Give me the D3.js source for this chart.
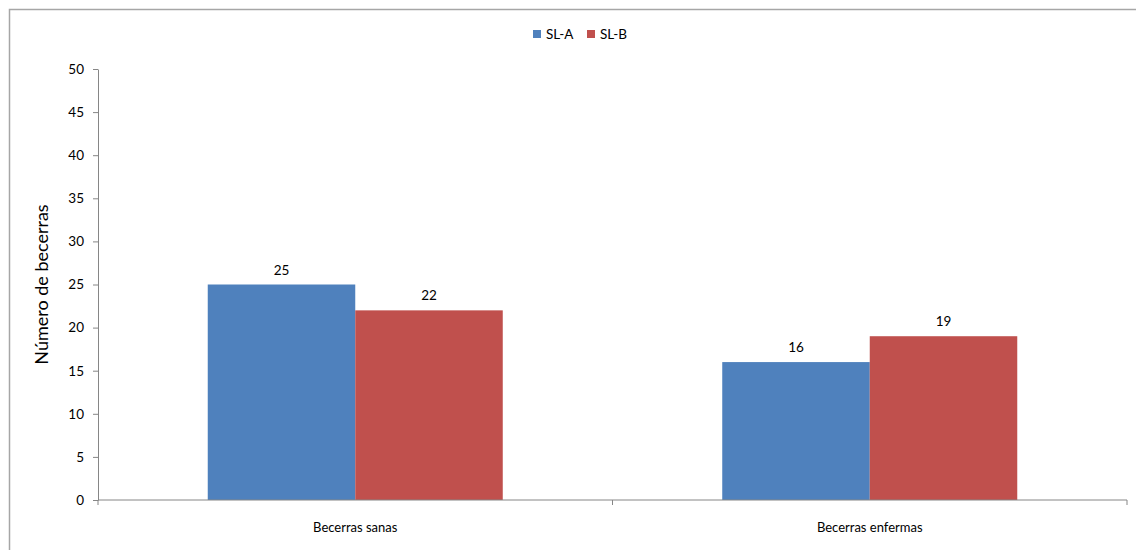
<!DOCTYPE html>
<html>
<head>
<meta charset="utf-8">
<script src="https://cdn.jsdelivr.net/npm/d3@7"></script>
<style>
  html, body { margin: 0; padding: 0; background: #fff; overflow: hidden; }
  svg { display: block; }
  text { font-family: Lato, "Open Sans", "Liberation Sans", sans-serif; fill: #000; }
</style>
</head>
<body>
<svg id="chart" width="1136" height="550"></svg>
<script>
// Calves per group, healthy vs sick
const categories = ["Becerras sanas", "Becerras enfermas"];
const seriesNames = ["SL-A", "SL-B"];
const slA = [25, 16];
const slB = [22, 19];
const yTicks = [0, 5, 10, 15, 20, 25, 30, 35, 40, 45, 50];
const colors = ["#4f81bd", "#c0504d"];

const svg = d3.select("#chart");
const W = 1136, H = 550;
const plot = { left: 98, right: 1127, top: 69, bottom: 500 };

// outer frame (top and left edges visible)
svg.append("path")
  .attr("d", `M9.5,${H + 5}V9.5H${W + 5}`)
  .attr("fill", "none").attr("stroke", "#a6a6a6").attr("stroke-width", 1.5);

const y = d3.scaleLinear().domain([0, 50]).range([plot.bottom, plot.top]);
const x0 = d3.scaleBand().domain(categories).range([plot.left, plot.right]).padding(0);
const x1 = d3.scaleBand().domain(seriesNames).range([0, x0.bandwidth()])
  .paddingInner(0).paddingOuter(0.744);

const rows = categories.map((c, i) => ({ cat: c, vals: [slA[i], slB[i]] }));

// bars
const groups = svg.append("g").selectAll("g").data(rows).join("g")
  .attr("transform", d => `translate(${x0(d.cat)},0)`);
groups.selectAll("rect")
  .data(d => d.vals.map((v, j) => ({ name: seriesNames[j], v, j })))
  .join("rect")
  .attr("x", d => x1(d.name))
  .attr("y", d => y(d.v))
  .attr("width", x1.bandwidth())
  .attr("height", d => y(0) - y(d.v))
  .attr("fill", d => colors[d.j]);

// value labels
groups.selectAll("text.val")
  .data(d => d.vals.map((v, j) => ({ name: seriesNames[j], v, j })))
  .join("text").attr("class", "val")
  .attr("x", d => x1(d.name) + x1.bandwidth() / 2)
  .attr("y", d => y(d.v) - 10)
  .attr("text-anchor", "middle")
  .attr("font-size", 13.5)
  .text(d => d.v);

// y axis
const yAxis = svg.append("g")
  .attr("transform", `translate(${plot.left},0)`)
  .call(d3.axisLeft(y).tickValues(yTicks).tickSize(5).tickPadding(9).tickSizeOuter(0));
yAxis.select(".domain").attr("stroke", "#868686");
yAxis.selectAll(".tick line").attr("stroke", "#868686");
yAxis.selectAll(".tick text").attr("font-size", 13.5).attr("font-family", "Lato, 'Open Sans', sans-serif");

// x axis with boundary ticks between categories
const xAxisG = svg.append("g").attr("transform", `translate(0,${plot.bottom})`);
xAxisG.append("line")
  .attr("x1", plot.left).attr("x2", plot.right)
  .attr("stroke", "#868686");
const bounds = [plot.left].concat(categories.map(c => x0(c) + x0.bandwidth()));
xAxisG.selectAll("line.tk").data(bounds).join("line").attr("class", "tk")
  .attr("x1", d => d).attr("x2", d => d)
  .attr("y1", 0).attr("y2", 5)
  .attr("stroke", "#868686");
xAxisG.selectAll("text").data(categories).join("text")
  .attr("x", d => x0(d) + x0.bandwidth() / 2)
  .attr("y", 32)
  .attr("text-anchor", "middle")
  .attr("font-size", 13)
  .text(d => d);

// y axis title
svg.append("text")
  .attr("transform", `translate(48,${(plot.top + plot.bottom) / 2}) rotate(-90)`)
  .attr("text-anchor", "middle")
  .attr("font-size", 18)
  .text("Número de becerras");

// legend
const legend = svg.append("g");
const legendX = [533, 587];
seriesNames.forEach((n, i) => {
  legend.append("rect")
    .attr("x", legendX[i]).attr("y", 30)
    .attr("width", 8).attr("height", 8)
    .attr("fill", colors[i]);
  legend.append("text")
    .attr("x", legendX[i] + 13).attr("y", 39)
    .attr("font-size", 13.5)
    .text(n);
});
</script>
</body>
</html>
